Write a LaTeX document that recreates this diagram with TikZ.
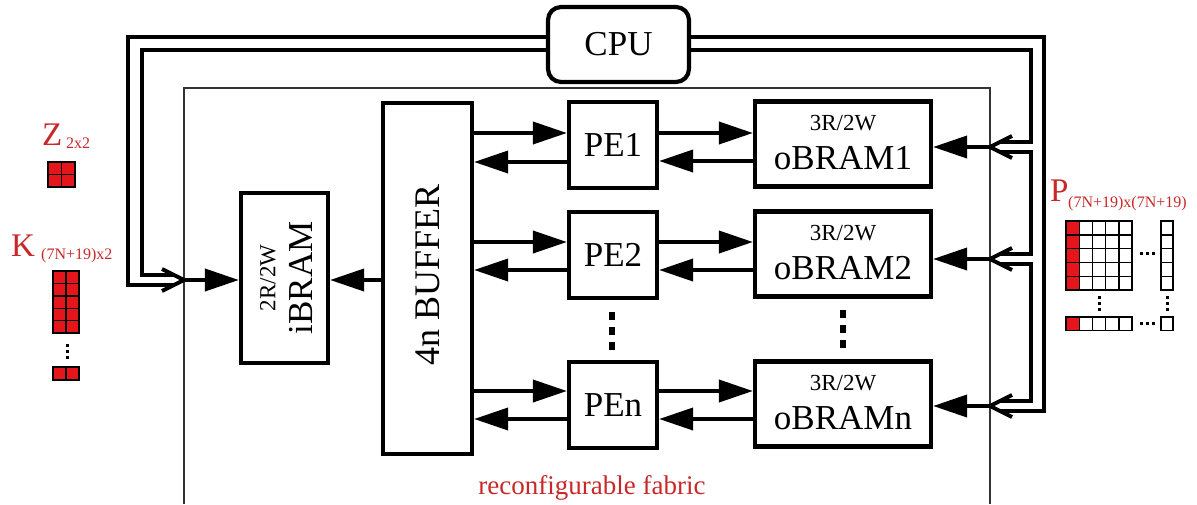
\documentclass[tikz,border=0pt]{standalone}
\usepackage{fontspec}
\setmainfont{Liberation Serif}
\usetikzlibrary{arrows.meta}
\definecolor{tred}{RGB}{200,40,40}
\definecolor{cred}{RGB}{228,22,28}
\tikzset{
 blk/.style={draw, line width=4.2pt, inner sep=0pt},
 big/.style={font=\fontsize{35}{40}\selectfont},
 small/.style={font=\fontsize{23}{26}\selectfont},
 arr/.style={line width=3.8pt, -{Triangle[length=34pt,width=22pt]}},
 bus/.style={line width=4pt, line join=miter},
 rlab/.style={text=tred, inner sep=0pt, anchor=base west},
 cell/.style={draw=black, line width=1.4pt},
}
\begin{document}
\begin{tikzpicture}[x=1pt,y=-1pt]
\useasboundingbox (0,0) rectangle (1197,504);
\fill[white] (0,0) rectangle (1197,504);

% fabric
\draw[line width=1.5pt, black!80] (184,504) -- (184,88) -- (990,88) -- (990,504);
\node[text=tred, font=\fontsize{27}{30}\selectfont, anchor=base, inner sep=0pt] (fab) at (592,494) {reconfigurable fabric};

% CPU
\node[blk, rounded corners=13pt, minimum width=141pt, minimum height=75pt, big] (cpu) at (618.5,44.5) {CPU};

% iBRAM
\node[blk, minimum width=87pt, minimum height=170pt] (ibram) at (284.5,278) {};
\node[small, rotate=90, inner sep=0pt] (ibt1) at (268,278) {2R/2W};
\node[big, rotate=90, inner sep=0pt] (ibt2) at (301,278) {iBRAM};

% buffer
\node[blk, minimum width=89pt, minimum height=351pt] (buf) at (427.5,278.5) {};
\node[font=\fontsize{36}{40}\selectfont, rotate=90, inner sep=0pt] (buft) at (428,275) {4n BUFFER};

% PEs
\node[blk, minimum width=88pt, minimum height=86pt, big] (pe1) at (613,145) {PE1};
\node[blk, minimum width=88pt, minimum height=86pt, big] (pe2) at (613,255) {PE2};
\node[blk, minimum width=88pt, minimum height=86pt, big] (pen) at (613,405) {PEn};

% oBRAMs
\node[blk, minimum width=176pt, minimum height=85pt] (ob1) at (843,144) {};
\node[small, anchor=base, inner sep=0pt] (ob1a) at (843,130.5) {3R/2W};
\node[big, anchor=base, inner sep=0pt] (ob1b) at (843,169.5) {oBRAM1};
\node[blk, minimum width=176pt, minimum height=85pt] (ob2) at (843,254) {};
\node[small, anchor=base, inner sep=0pt] (ob2a) at (843,240.5) {3R/2W};
\node[big, anchor=base, inner sep=0pt] (ob2b) at (843,279.5) {oBRAM2};
\node[blk, minimum width=176pt, minimum height=85pt] (obn) at (843,404) {};
\node[small, anchor=base, inner sep=0pt] (obna) at (843,390.5) {3R/2W};
\node[big, anchor=base, inner sep=0pt] (obnb) at (843,429.5) {oBRAMn};

% vertical dots
\foreach \yy in {316,331,346} \fill (609,\yy-4) rectangle (615,\yy+4);
\foreach \yy in {314,329,344} \fill (840,\yy-4) rectangle (846,\yy+4);

% buffer <-> PE, PE <-> oBRAM
\draw[arr] (buf.east |- 0,133) -- (pe1.west |- 0,133);
\draw[arr] (pe1.west |- 0,162) -- (buf.east |- 0,162);
\draw[arr] (pe1.east |- 0,133) -- (ob1.west |- 0,133);
\draw[arr] (ob1.west |- 0,161) -- (pe1.east |- 0,161);
\draw[arr] (buf.east |- 0,242) -- (pe2.west |- 0,242);
\draw[arr] (pe2.west |- 0,270) -- (buf.east |- 0,270);
\draw[arr] (pe2.east |- 0,242) -- (ob2.west |- 0,242);
\draw[arr] (ob2.west |- 0,270) -- (pe2.east |- 0,270);
\draw[arr] (buf.east |- 0,391) -- (pen.west |- 0,391);
\draw[arr] (pen.west |- 0,419) -- (buf.east |- 0,419);
\draw[arr] (pen.east |- 0,391) -- (obn.west |- 0,391);
\draw[arr] (obn.west |- 0,419) -- (pen.east |- 0,419);
\draw[arr] (buf.west |- 0,280) -- (ibram.east |- 0,280);

% left bus
\coordinate (lt) at (184,280);
\draw[bus] (cpu.west |- 0,37) -- (128,37) -- (128,285) -- (174,285);
\draw[bus] (cpu.west |- 0,50) -- (142,50) -- (142,275) -- (174,275);
\draw[bus] (162,269) -- (lt) -- (162,291);
\draw[arr] (lt) -- (ibram.west |- lt);

% right bus
\coordinate (rt1) at (990,147);
\coordinate (rt2) at (990,259);
\coordinate (rt3) at (990,406);
\draw[bus] (cpu.east |- 0,50) -- (1031,50) -- (1031,142) -- (1000,142);
\draw[bus] (1000,152) -- (1031,152) -- (1031,254) -- (1000,254);
\draw[bus] (1000,264) -- (1031,264) -- (1031,401) -- (1000,401);
\draw[bus] (cpu.east |- 0,37) -- (1044,37) -- (1044,411) -- (1000,411);
\draw[bus] (1012,136) -- (rt1) -- (1012,158);
\draw[bus] (1012,248) -- (rt2) -- (1012,270);
\draw[bus] (1012,395) -- (rt3) -- (1012,417);
\draw[arr] (rt1) -- (ob1.east |- rt1);
\draw[arr] (rt2) -- (ob2.east |- rt2);
\draw[arr] (rt3) -- (obn.east |- rt3);

% Z
\node[rlab, font=\fontsize{33}{35}\selectfont] (zl) at (42,145) {Z};
\node[rlab, font=\fontsize{16}{18}\selectfont] (zs) at (66,148) {2x2};
\foreach \i in {0,1} \foreach \j in {0,1}
  \draw[cell, fill=cred] (48+13.5*\i,162+12.5*\j) rectangle ++(13.5,12.5);

% K
\node[rlab, font=\fontsize{33}{35}\selectfont] (kl) at (11,256) {K};
\node[rlab, font=\fontsize{16}{18}\selectfont] (ks) at (41,259) {(7N+19)x2};
\foreach \i in {0,1} \foreach \j in {0,...,4}
  \draw[cell, fill=cred] (53+13*\i,271+12.4*\j) rectangle ++(13,12.4);
\foreach \yy in {345,351,357} \fill (65.5,\yy-1.5) rectangle (68.5,\yy+1.5);
\foreach \i in {0,1}
  \draw[cell, fill=cred] (53+13*\i,367) rectangle ++(13,13);

% P
\node[rlab, font=\fontsize{33}{35}\selectfont] (pl) at (1050,201) {P};
\node[rlab, font=\fontsize{16}{18}\selectfont] (ps) at (1068,207) {(7N+19)x(7N+19)};
\foreach \i in {1,...,4} \foreach \j in {0,...,4}
  \draw[cell, fill=white] (1066+13.2*\i,221+13.8*\j) rectangle ++(13.2,13.8);
\foreach \j in {0,...,4}
  \draw[cell, fill=cred] (1066,221+13.8*\j) rectangle ++(13.2,13.8);
\foreach \j in {0,...,4}
  \draw[cell, fill=white] (1161,221+13.8*\j) rectangle ++(12,13.8);
\foreach \xx in {1141,1147,1153} \fill (\xx-1.5,251.5) rectangle (\xx+1.5,254.5);
\foreach \xx in {1099,1167} \foreach \yy in {297,303,309}
  \fill (\xx-1.5,\yy-1.5) rectangle (\xx+1.5,\yy+1.5);
\draw[cell, fill=cred] (1066,317) rectangle ++(13.2,13.2);
\foreach \i in {1,...,4}
  \draw[cell, fill=white] (1066+13.2*\i,317) rectangle ++(13.2,13.2);
\foreach \xx in {1141,1147,1153} \fill (\xx-1.5,322) rectangle (\xx+1.5,325);
\draw[cell, fill=white] (1161,317) rectangle ++(12,13.2);
\end{tikzpicture}
\end{document}
